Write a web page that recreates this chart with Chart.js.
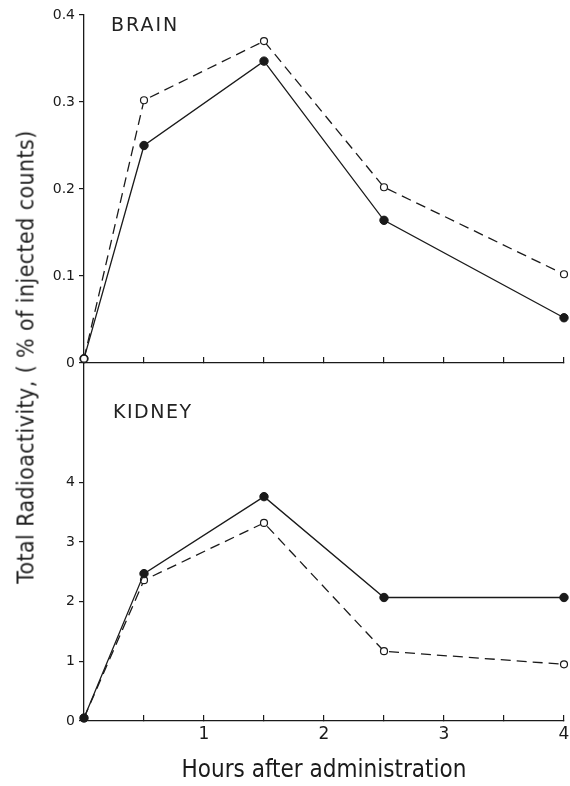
<!DOCTYPE html>
<html>
<head>
<meta charset="utf-8">
<script src="https://cdn.jsdelivr.net/npm/chart.js@4/dist/chart.umd.min.js"></script>
<style>
  body { margin: 0; background: #fff; }
  #wrap { position: relative; width: 570px; height: 786px; overflow: hidden; }
  canvas { position: absolute; left: 0; }
  #c1 { top: 0; }
  #c2 { top: 363px; }
  .lbl { position: absolute; font-family: "DejaVu Sans", sans-serif; color: #222; line-height: 1; }
  #ytitle {
    left: 26px; top: 357px; font-size: 23px; white-space: nowrap; letter-spacing: 0.4px;
    font-family: "DejaVu Sans Condensed", "DejaVu Sans", sans-serif; font-stretch: condensed;
    transform: translate(-50%, -50%) rotate(-90deg);
  }
  #brain { left: 111px; top: 15px; font-size: 19px; letter-spacing: 2px; }
  #kidney { left: 113px; top: 402px; font-size: 19px; letter-spacing: 1.5px; }
</style>
</head>
<body>
<div id="wrap">
  <canvas id="c1"></canvas>
  <canvas id="c2"></canvas>
  <div class="lbl" id="ytitle">Total Radioactivity, ( % of injected counts)</div>
  <div class="lbl" id="brain">BRAIN</div>
  <div class="lbl" id="kidney">KIDNEY</div>
</div>
<script>
const hours = [0, 0.5, 1.5, 2.5, 4];
const brainFilled = [0.005, 0.25, 0.347, 0.164, 0.052];
const brainOpen = [0.005, 0.302, 0.37, 0.202, 0.102];
const kidneyFilled = [0.05, 2.47, 3.76, 2.07, 2.07];
const kidneyOpen = [0.05, 2.36, 3.32, 1.17, 0.95];
const brainTicks = [0, 0.1, 0.2, 0.3, 0.4];
const kidneyTicks = [0, 1, 2, 3, 4];
const hourLabels = [1, 2, 3, 4];

const ink = '#1a1a1a';
const fontName = '"DejaVu Sans", sans-serif';

function pts(ys) {
    return hours.map((h, i) => ({ x: h, y: ys[i] }));
}

function filledSet(ys) {
    return {
        data: pts(ys),
        borderColor: ink, borderWidth: 1.3,
        pointRadius: 4.2, pointBackgroundColor: ink, pointBorderColor: ink,
        pointBorderWidth: 1, clip: false, tension: 0
    };
}

function openSet(ys) {
    return {
        data: pts(ys),
        borderColor: ink, borderWidth: 1.3, borderDash: [10, 6],
        pointRadius: 3.5, pointBackgroundColor: '#fff', pointBorderColor: ink,
        pointBorderWidth: 1.2, clip: false, tension: 0
    };
}

// fixed axis sizes so both panels line up
function xAxis(showLabels, height) {
    return {
        type: 'linear', min: 0, max: 4,
        border: { color: ink, width: 1.3 },
        grid: { drawOnChartArea: false, color: ink, lineWidth: 1.2, tickLength: -6 },
        ticks: {
            display: showLabels, stepSize: 0.5, autoSkip: false, maxRotation: 0,
            padding: 9, color: ink, font: { family: fontName, size: 17 },
            callback: v => hourLabels.includes(v) ? String(v) : ''
        },
        title: {
            display: showLabels, text: 'Hours after administration', color: ink,
            font: { family: '"DejaVu Sans Condensed", "DejaVu Sans", sans-serif', size: 24 },
            padding: { top: 4, bottom: 1 }
        },
        afterFit: s => {
            s.height = height;
            s.paddingLeft = 0; s.paddingRight = 0;
        }
    };
}

function yAxis(min, max, step, shown) {
    return {
        type: 'linear', min: min, max: max,
        border: { color: ink, width: 1.3 },
        grid: { drawOnChartArea: false, color: ink, lineWidth: 1.2, tickLength: 5 },
        ticks: {
            stepSize: step, color: ink, padding: 4,
            font: { family: fontName, size: 14 },
            callback: v => {
                const hit = shown.find(t => Math.abs(t - v) < 1e-9);
                return hit === undefined ? null : String(hit);
            }
        },
        afterFit: s => {
            s.width = 84;
            s.paddingTop = 0; s.paddingBottom = 0;
        }
    };
}

const common = {
    responsive: false,
    animation: false,
    events: [],
    plugins: { legend: { display: false }, tooltip: { enabled: false } }
};

const c1 = document.getElementById('c1');
c1.width = 570; c1.height = 373;
new Chart(c1, {
    type: 'line',
    data: { datasets: [openSet(brainOpen), filledSet(brainFilled)] },
    options: Object.assign({}, common, {
        layout: { autoPadding: false, padding: { top: 15, right: 6, left: 0, bottom: 0 } },
        scales: { x: xAxis(false, 10), y: yAxis(0, 0.4, 0.1, brainTicks) }
    })
});

const c2 = document.getElementById('c2');
c2.width = 570; c2.height = 423;
new Chart(c2, {
    type: 'line',
    data: { datasets: [filledSet(kidneyFilled), openSet(kidneyOpen)] },
    options: Object.assign({}, common, {
        layout: { autoPadding: false, padding: { top: 0, right: 6, left: 0, bottom: 0 } },
        scales: { x: xAxis(true, 65), y: yAxis(0, 6, 1, kidneyTicks) }
    })
});
</script>
</body>
</html>
